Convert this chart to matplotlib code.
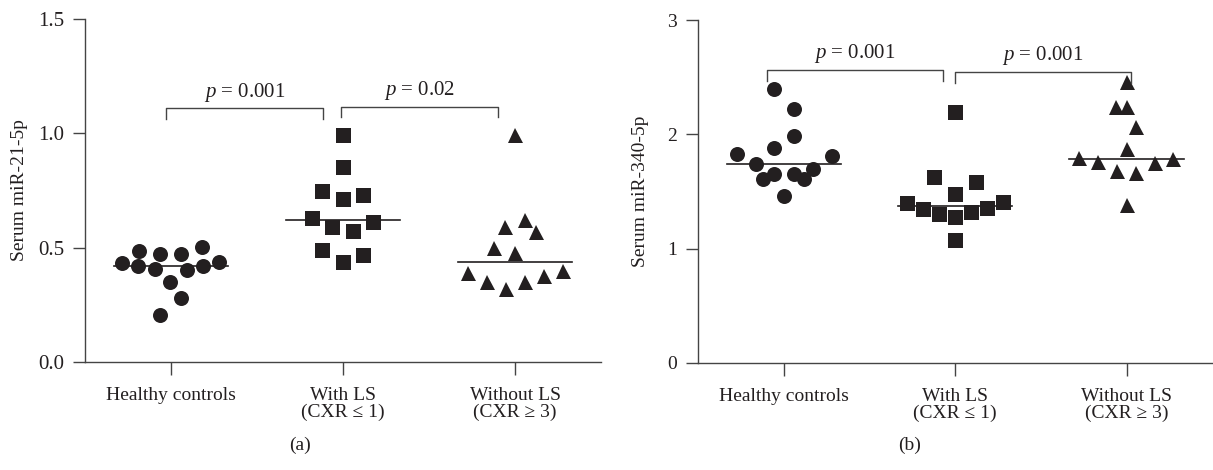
import matplotlib
matplotlib.use("Agg")
import matplotlib.pyplot as plt

# Categorias do eixo x
grupos = ["Healthy controls", "With LS\n(CXR \u2264 1)", "Without LS\n(CXR \u2265 3)"]

# (a) Serum miR-21-5p
a_hc = [0.431, 0.484, 0.421, 0.405, 0.471, 0.351, 0.472, 0.402, 0.281, 0.205, 0.501, 0.420, 0.439]
a_hc_dx = [-0.283, -0.184, -0.190, -0.093, -0.064, -0.006, 0.056, 0.091, 0.058, -0.064, 0.178, 0.188, 0.279]
a_ls = [0.993, 0.854, 0.749, 0.711, 0.732, 0.631, 0.589, 0.575, 0.611, 0.490, 0.439, 0.468]
a_ls_dx = [0.0, 0.0, -0.124, 0.0, 0.115, -0.182, -0.062, 0.056, 0.176, -0.124, 0.0, 0.115]
a_nls = [0.991, 0.589, 0.621, 0.567, 0.500, 0.478, 0.388, 0.348, 0.318, 0.348, 0.377, 0.399]
a_nls_dx = [0.0, -0.058, 0.060, 0.122, -0.120, 0.0, -0.275, -0.165, -0.054, 0.058, 0.167, 0.277]
a_medianas = [0.420, 0.621, 0.439]

# (b) Serum miR-340-5p
b_hc = [2.397, 2.225, 1.986, 1.884, 1.826, 1.814, 1.738, 1.654, 1.610, 1.654, 1.610, 1.695, 1.464]
b_hc_dx = [-0.058, 0.062, 0.062, -0.058, -0.275, 0.282, -0.164, -0.055, -0.119, 0.059, 0.121, 0.171, 0.0]
b_ls = [2.199, 1.625, 1.586, 1.476, 1.397, 1.347, 1.304, 1.275, 1.318, 1.359, 1.411, 1.076]
b_ls_dx = [0.0, -0.122, 0.121, 0.0, -0.283, -0.186, -0.095, 0.0, 0.091, 0.186, 0.279, 0.0]
b_nls = [2.458, 2.237, 2.243, 2.062, 1.870, 1.791, 1.761, 1.682, 1.660, 1.752, 1.782, 1.382]
b_nls_dx = [0.0, -0.060, 0.0, 0.058, 0.0, -0.279, -0.169, -0.056, 0.055, 0.167, 0.273, 0.0]
b_medianas = [1.738, 1.374, 1.788]

# Comparações (x0, x1, altura, perna, texto)
a_comp = [(-0.03, 0.882, 1.110, 1.061, "0.001"), (0.987, 1.903, 1.116, 1.070, "0.02")]
b_comp = [(-0.097, 0.93, 2.563, 2.47, "0.001"), (1.0, 2.025, 2.548, 2.452, "0.001")]

COR = "#231f20"
SERIF = ["Liberation Serif", "DejaVu Serif"]
plt.rcParams["font.family"] = SERIF
plt.rcParams["mathtext.fontset"] = "custom"
plt.rcParams["mathtext.it"] = "Liberation Serif:italic"
plt.rcParams["mathtext.rm"] = "Liberation Serif"

fig = plt.figure(figsize=(12.13, 4.70), dpi=100)
ax_a = fig.add_axes([0.0701, 0.2298, 0.4254, 0.7298])
ax_b = fig.add_axes([0.5754, 0.2277, 0.4240, 0.7297])


def painel(ax, series, medianas, comps, ylim, yticks, yfmt, ylabel, ysize, dy_txt):
    marcadores = ["o", "s", "^"]
    for i, (vals, dx) in enumerate(series):
        xs = [i + d for d in dx]
        ax.plot(xs, vals, linestyle="none", marker=marcadores[i],
                markersize=10.8, color=COR, markeredgewidth=0)
        ax.plot([i - 0.333, i + 0.333], [medianas[i]] * 2, color=COR, lw=1.2)
    for x0, x1, h, perna, txt in comps:
        ax.plot([x0, x0, x1, x1], [perna, h, h, perna], color="#444444", lw=1.0,
                clip_on=False)
        ax.text((x0 + x1) / 2, h + dy_txt, "$p$ = " + txt, ha="center", va="bottom",
                fontsize=15, color=COR)
    ax.set_xlim(-0.5, 2.5)
    ax.set_ylim(*ylim)
    ax.set_yticks(yticks)
    ax.set_yticklabels([yfmt.format(v) for v in yticks], fontsize=ysize, color=COR)
    ax.set_xticks(range(3))
    ax.set_xticklabels(grupos, fontsize=14, color=COR, linespacing=1.0)
    ax.set_ylabel(ylabel, fontsize=14, color=COR)
    for lado in ("top", "right"):
        ax.spines[lado].set_visible(False)
    for lado in ("left", "bottom"):
        ax.spines[lado].set_color("#444444")
        ax.spines[lado].set_linewidth(1.0)
    ax.tick_params(direction="out", length=9, width=1.0, color="#444444", pad=6)
    ax.tick_params(axis="x", pad=9)


painel(ax_a, [(a_hc, a_hc_dx), (a_ls, a_ls_dx), (a_nls, a_nls_dx)], a_medianas, a_comp,
       (0, 1.5), [0, 0.5, 1.0, 1.5], "{:.1f}", "Serum miR-21-5p", 15, 0.02)
painel(ax_b, [(b_hc, b_hc_dx), (b_ls, b_ls_dx), (b_nls, b_nls_dx)], b_medianas, b_comp,
       (0, 3), [0, 1, 2, 3], "{:.0f}", "Serum miR-340-5p", 14, 0.04)
ax_a.yaxis.labelpad = 7
ax_b.yaxis.labelpad = 13

fig.text(0.247, 0.052, "(a)", ha="center", va="center", fontsize=14, color=COR)
fig.text(0.750, 0.052, "(b)", ha="center", va="center", fontsize=14, color=COR)

fig.savefig("out.png", dpi=100)
plt.close(fig)
